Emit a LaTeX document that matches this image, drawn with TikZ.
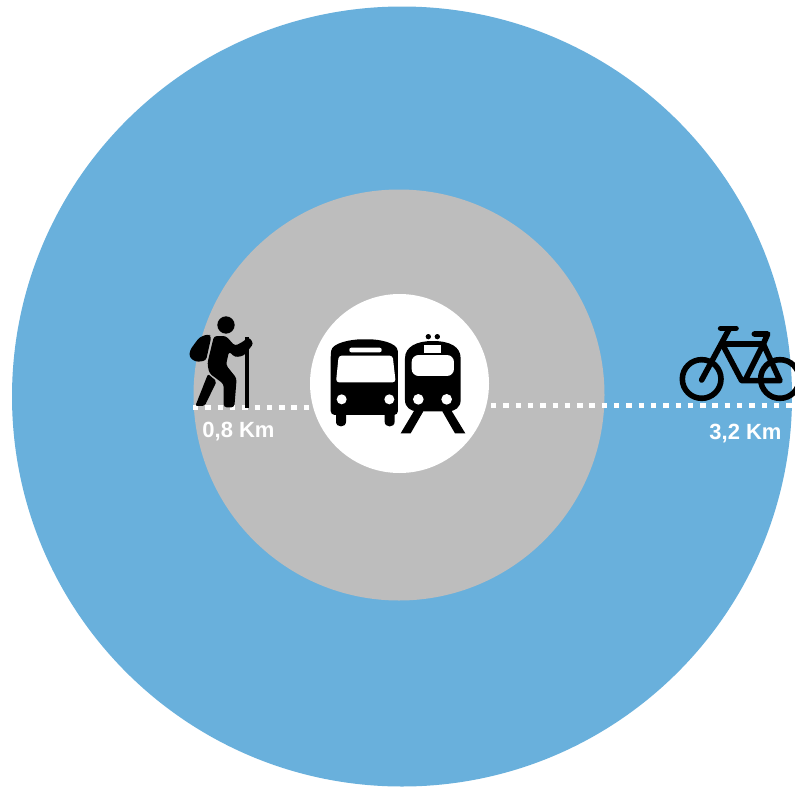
\documentclass[tikz,border=0pt]{standalone}
\usepackage{fontspec}
\setmainfont{Liberation Sans}
\definecolor{ringblue}{HTML}{69B0DC}
\definecolor{ringgrey}{HTML}{BDBDBD}
\tikzset{
  disc/.style={circle,inner sep=0pt,minimum size=#1},
  dist/.style={white,line width=5pt,dash pattern=on 5.4pt off 6.9pt},
  distlabel/.style={text=white,font=\bfseries\fontsize{22}{24}\selectfont,inner sep=0pt},
  ink/.style={fill=black,draw=none},
  hole/.style={fill=white,draw=none},
  spoke/.style={draw=black,line width=5.6pt,line cap=round,line join=round},
  icon/.style={x=0.3333pt,y=-0.3333pt}
}
\begin{document}
\begin{tikzpicture}[x=1pt,y=-1pt]
\useasboundingbox (0,0) rectangle (795,787);
\fill[white] (0,0) rectangle (795,787);
\node[disc=780pt,fill=ringblue] (outer) at (402,396.5) {};
\node[disc=411pt,fill=ringgrey] (mid) at (399,395) {};
\node[disc=179pt,fill=white] (inner) at (399.5,383.5) {};

\coordinate (la) at (193,407); \coordinate (lb) at (311,407);
\coordinate (ra) at (491,405); \coordinate (rb) at (795,405);
\draw[dist] (la) -- (lb);
\draw[dist] (ra) -- (rb);
\node[distlabel] (l1) at (238.5,431.5) {0,8 Km};
\node[distlabel] (l2) at (745.5,433.5) {3,2 Km};

% hiker
\begin{scope}[shift={(180,300)},icon]
\fill[ink] (138,75) circle (26);
\fill[ink] (194,112) rectangle (208,325);
\fill[ink,rounded corners=3pt] (85,102) -- (94,110) -- (78,182) -- (48,186) -- (28,172) -- (30,150) -- (58,112) -- cycle;
\fill[ink,rounded corners=3pt] (102,108) -- (138,108) -- (165,138) -- (194,122) -- (205,110) -- (221,130) -- (192,167) -- (165,172) -- (147,154) -- (138,195) -- (170,235) -- (163,322) -- (131,322) -- (131,252) -- (88,220) -- (82,190) -- cycle;
\fill[ink,rounded corners=2pt] (84,222) -- (110,244) -- (74,318) -- (46,318) -- cycle;
\end{scope}

% bus and train
\begin{scope}[shift={(310,320)},icon]
\fill[ink] (78,280) -- (78,305) .. controls (78,324) and (108,324) .. (108,305) -- (108,280) -- cycle;
\fill[ink] (224,280) -- (224,305) .. controls (224,324) and (254,324) .. (254,305) -- (254,280) -- cycle;
\fill[ink,rounded corners=4pt] (62,285) -- (62,105) .. controls (66,68) and (125,58) .. (166,58) .. controls (208,58) and (262,68) .. (264,105) -- (264,285) -- cycle;
\fill[hole,rounded corners=3pt] (86,107) -- (248,107) -- (257,187) -- (78,187) -- cycle;
\fill[hole,rounded corners=2pt] (118,83) rectangle (215,97);
\fill[hole] (95,238) circle (15);
\fill[hole] (238,238) circle (15);
\fill[ink] (285,240) -- (285,115) .. controls (285,80) and (320,63) .. (368,63) .. controls (420,63) and (452,80) .. (452,115) -- (452,240) .. controls (452,262) and (435,274) .. (415,274) -- (322,274) .. controls (302,274) and (285,262) .. (285,240) -- cycle;
\fill[ink] (315,268) -- (272,340) -- (302,340) -- (340,274) -- cycle;
\fill[ink] (397,274) -- (435,340) -- (466,340) -- (422,268) -- cycle;
\fill[hole,rounded corners=7pt] (305,105) rectangle (432,168);
\fill[hole] (343,75) rectangle (392,100);
\fill[ink] (355,50) circle (8);
\fill[ink] (382,50) circle (8);
\fill[hole] (325,238) circle (16);
\fill[hole] (410,238) circle (16);
\end{scope}

% bicycle
\begin{scope}[shift={(655,310)},icon]
\draw[spoke] (140,207) circle (58);
\draw[spoke] (375,207) circle (58);
\draw[spoke] (197,55) -- (243,55);
\draw[spoke] (222,58) -- (140,210);
\draw[spoke] (205,102) -- (325,102);
\draw[spoke] (205,108) -- (260,212) -- (375,212) -- (325,102) -- (270,212);
\draw[spoke] (298,72) -- (338,72) -- (325,102);
\end{scope}
\end{tikzpicture}
\end{document}
